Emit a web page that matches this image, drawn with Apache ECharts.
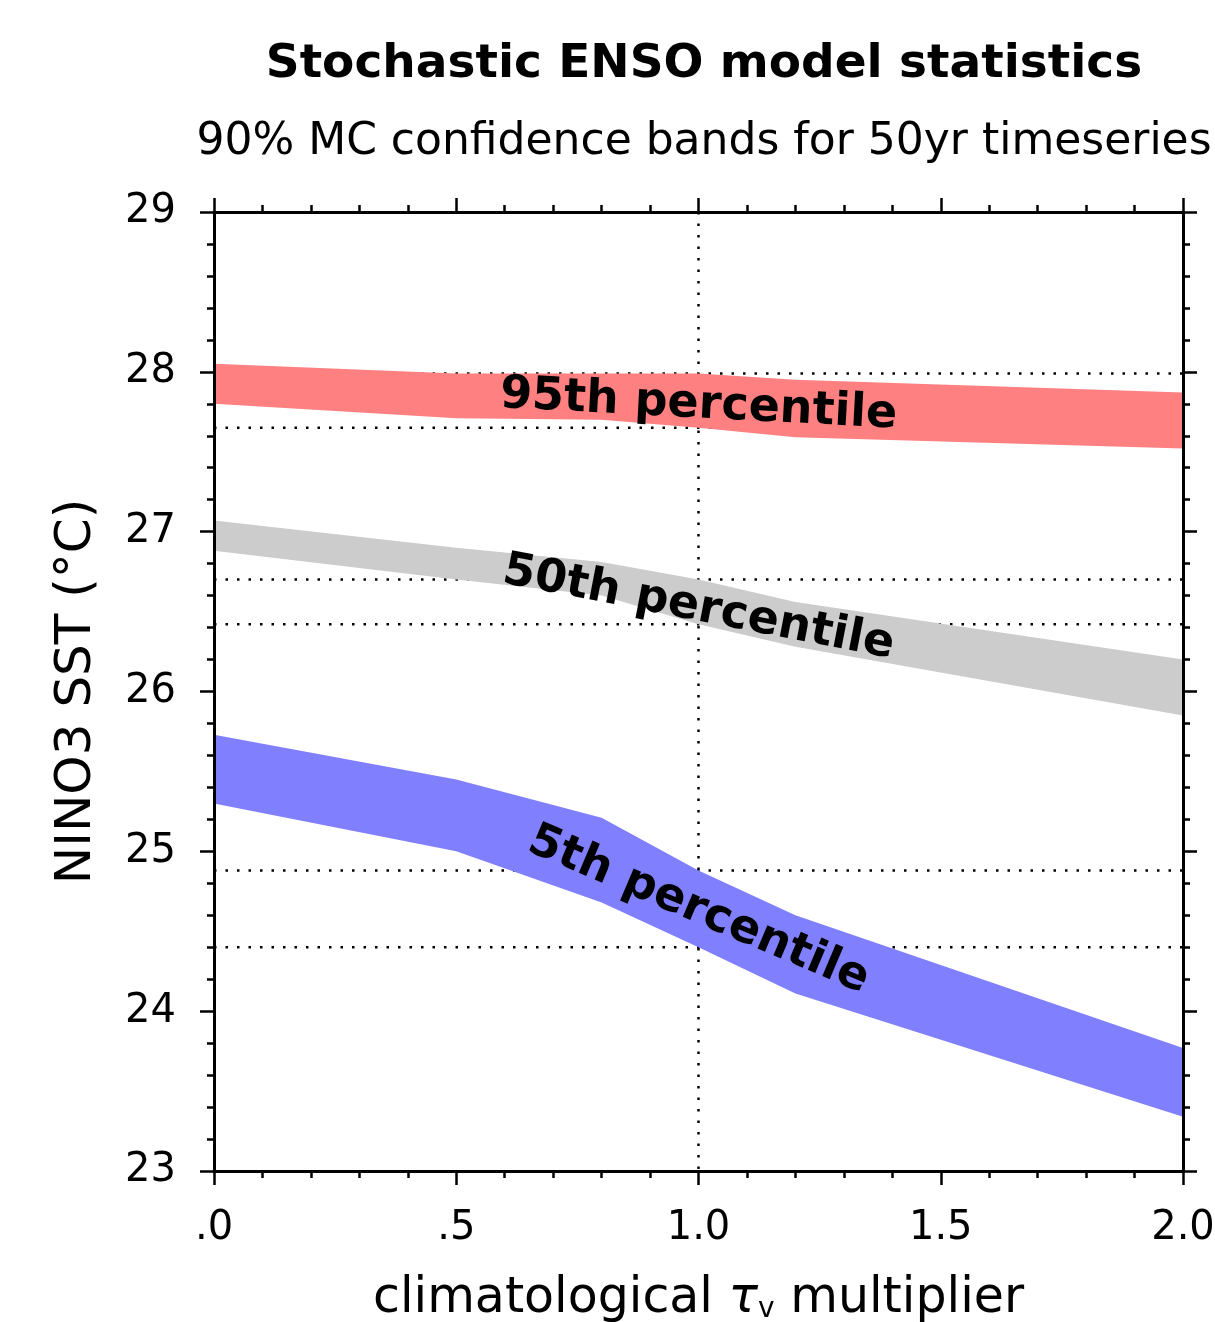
<!DOCTYPE html>
<html><head><meta charset="utf-8">
<script src="https://cdn.jsdelivr.net/npm/echarts@6/dist/echarts.min.js"></script>
<style>html,body{margin:0;padding:0;background:#fff;overflow:hidden}#c{width:1215px;height:1322px}</style>
</head><body><div id="c"></div>
<script>
// ---- data ----
const tauMultiplier = [0.0, 0.5, 0.8, 1.0, 1.2, 2.0];
const p95Lower = [27.80, 27.71, 27.70, 27.65, 27.59, 27.52];
const p95Upper = [28.05, 27.99, 27.99, 27.99, 27.95, 27.87];
const p50Lower = [26.88, 26.70, 26.60, 26.42, 26.28, 25.85];
const p50Upper = [27.07, 26.90, 26.81, 26.70, 26.56, 26.20];
const p5Lower  = [25.30, 25.00, 24.68, 24.40, 24.11, 23.34];
const p5Upper  = [25.73, 25.45, 25.21, 24.88, 24.60, 23.77];
const refLevels = [27.99, 27.65, 26.70, 26.42, 24.88, 24.40];
const refTau = [1.0];
const xTickLabels = {'0': '.0', '0.5': '.5', '1': '1.0', '1.5': '1.5', '2': '2.0'};
const bandNames = ['95th percentile', '50th percentile', '5th percentile'];
const bandLabelTau = [1.0, 1.0, 1.0];
const bandLabelValue = [27.79, 26.52, 24.63];
const bandLabelAngle = [-3, -11, -23];

const FONT = 'DejaVu Sans';
const DOT = { stroke: '#000', lineWidth: 2.5, lineDash: [2.5, 9] };

function bandSeries(name, lo, hi, color) {
  return {
    type: 'custom', name: name, z: 3, silent: true, clip: true,
    data: tauMultiplier.map((x, i) => [x, lo[i], hi[i]]),
    encode: { x: 0, y: [1, 2] },
    renderItem: function (params, api) {
      if (params.dataIndex !== 0) return null;
      const top = tauMultiplier.map((x, i) => api.coord([x, hi[i]]));
      const bot = tauMultiplier.map((x, i) => api.coord([x, lo[i]])).reverse();
      return { type: 'polygon', shape: { points: top.concat(bot) }, style: { fill: color, stroke: null } };
    }
  };
}

function labelSeries(i) {
  return {
    type: 'custom', name: bandNames[i] + ' label', z: 5, silent: true,
    data: [[bandLabelTau[i], bandLabelValue[i]]],
    encode: { x: 0, y: 1 },
    renderItem: function (params, api) {
      const p = api.coord([api.value(0), api.value(1)]);
      return {
        type: 'text', x: p[0], y: p[1], rotation: bandLabelAngle[i] * Math.PI / 180,
        style: { text: bandNames[i], fill: '#000', fontFamily: FONT, fontSize: 46, fontWeight: 'bold',
          align: 'center', verticalAlign: 'middle', textAlign: 'center', textVerticalAlign: 'middle' }
      };
    }
  };
}

// horizontal dotted reference levels (span whole plot width)
const refLevelSeries = {
  type: 'custom', name: 'refLevels', z: 1, silent: true,
  data: refLevels.map(v => [0, v]), encode: { x: 0, y: 1 },
  renderItem: function (params, api) {
    const cs = params.coordSys;
    const y = api.coord([api.value(0), api.value(1)])[1];
    return { type: 'line', shape: { x1: cs.x, y1: y, x2: cs.x + cs.width, y2: y }, style: DOT };
  }
};
// vertical dotted reference at tau = 1
const refTauSeries = {
  type: 'custom', name: 'refTau', z: 1, silent: true,
  data: refTau.map(v => [v, 26]), encode: { x: 0, y: 1 },
  renderItem: function (params, api) {
    const cs = params.coordSys;
    const x = api.coord([api.value(0), api.value(1)])[0];
    return { type: 'line', shape: { x1: x, y1: cs.y, x2: x, y2: cs.y + cs.height }, style: DOT };
  }
};

const axisLine = { show: true, onZero: false, lineStyle: { color: '#000', width: 3 } };
const tick = { show: true, inside: false, length: 14, lineStyle: { color: '#000', width: 2.5 } };
const minor = (n) => ({ show: true, splitNumber: n, length: 7, lineStyle: { color: '#000', width: 2.5 } });

const option = {
  backgroundColor: '#fff',
  animation: false,
  title: [
    { text: 'Stochastic ENSO model statistics', left: 699, top: 36, textAlign: 'center',
      textStyle: { fontFamily: FONT, fontSize: 47, fontWeight: 'bold', color: '#000' } },
    { text: '90% MC confidence bands for 50yr timeseries', left: 699, top: 116, textAlign: 'center',
      textStyle: { fontFamily: FONT, fontSize: 44, fontWeight: 'normal', color: '#000' } }
  ],
  grid: { left: 214, right: 32, top: 212, bottom: 151, containLabel: false, outerBoundsMode: 'none' },
  xAxis: [
    { type: 'value', min: 0, max: 2, interval: 0.5, position: 'bottom', z: 10,
      axisLine, axisTick: tick, minorTick: minor(5), splitLine: { show: false },
      axisLabel: { margin: 38, fontFamily: FONT, fontSize: 40, color: '#000',
        formatter: (v) => xTickLabels[String(v)] },
      name: 'climatological {i|τ}{s|v} multiplier', nameLocation: 'middle', nameGap: 104,
      nameTextStyle: { fontFamily: FONT, fontSize: 49, color: '#000',
        rich: { i: { fontFamily: FONT, fontStyle: 'italic', fontSize: 49, color: '#000' },
                s: { fontFamily: FONT, fontSize: 28, color: '#000', verticalAlign: 'bottom', lineHeight: 8 } } } },
    { type: 'value', min: 0, max: 2, interval: 0.5, position: 'top', z: 10,
      axisLine, axisTick: tick, minorTick: minor(5), splitLine: { show: false },
      axisLabel: { show: false } }
  ],
  yAxis: [
    { type: 'value', min: 23, max: 29, interval: 1, position: 'left', z: 10,
      axisLine, axisTick: tick, minorTick: minor(5), splitLine: { show: false },
      axisLabel: { margin: 38, fontFamily: FONT, fontSize: 40, color: '#000' },
      name: 'NINO3 SST (°C)', nameLocation: 'middle', nameRotate: 90, nameGap: 112,
      nameTextStyle: { fontFamily: FONT, fontSize: 50, color: '#000' } },
    { type: 'value', min: 23, max: 29, interval: 1, position: 'right', z: 10,
      axisLine, axisTick: tick, minorTick: minor(5), splitLine: { show: false },
      axisLabel: { show: false } }
  ],
  series: [
    refLevelSeries, refTauSeries,
    bandSeries('p95', p95Lower, p95Upper, '#ff8080'),
    bandSeries('p50', p50Lower, p50Upper, '#cccccc'),
    bandSeries('p5', p5Lower, p5Upper, '#8080ff'),
    labelSeries(0), labelSeries(1), labelSeries(2)
  ]
};
const chart = echarts.init(document.getElementById('c'), null, { renderer: 'canvas' });
chart.setOption(option);
</script></body></html>
